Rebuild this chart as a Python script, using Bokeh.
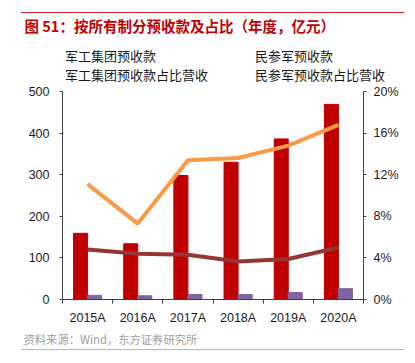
from bokeh.plotting import figure
from bokeh.layouts import column
from bokeh.models import (Range1d, LinearAxis, FixedTicker, NumeralTickFormatter,
                          Legend, LegendItem, Label, Plot, Div, CDSView, IndexFilter)
from bokeh.embed import file_html
from bokeh.resources import INLINE

categories = ["2015A", "2016A", "2017A", "2018A", "2019A", "2020A"]
jg_adv = [159, 134, 298, 330, 386, 469]          # 军工集团预收款 (亿元)
mc_adv = [10, 9, 12, 12, 17, 26]                 # 民参军预收款 (亿元)
jg_pct = [0.111, 0.073, 0.134, 0.136, 0.148, 0.168]   # 军工集团预收款占比营收
mc_pct = [0.048, 0.044, 0.043, 0.0365, 0.039, 0.050]  # 民参军预收款占比营收
left_ticks = [0, 100, 200, 300, 400, 500]
right_ticks = [0, 0.04, 0.08, 0.12, 0.16, 0.20]

CJK = "Noto Sans CJK SC"
FONT = "Liberation Sans"
AX = "#404040"
TXT = "#1a1a1a"
RED, PURPLE, ORANGE, DARKRED = "#C00000", "#8064A2", "#FA9A46", "#963634"
W = 410
RULE_TOP = 12     # page y of the top rule
HEAD = 84         # page y where main figure starts
FOOT = 328        # page y where main figure ends
RULE_BOT = 349    # page y of the bottom rule

xs = [i + 0.5 for i in range(len(categories))]
bw = 0.28

HAS_FRAME_ALIGN = "frame_align" in Plot.properties()

def no_align(fig):
    if HAS_FRAME_ALIGN:
        fig.frame_align = False

# ---------------- main chart ----------------
FL, FT = 62, 91 - HEAD
FR = W - 363
FB = FOOT - 299
p = figure(width=W, height=FOOT - HEAD, output_backend="svg", toolbar_location=None,
           title=None, x_range=Range1d(0, len(categories)), y_range=Range1d(0, 500),
           min_border_left=FL, min_border_right=FR, min_border_top=FT,
           min_border_bottom=FB, margin=0)
no_align(p)
p.outline_line_color = None
p.xgrid.visible = False
p.ygrid.visible = False

p.vbar(x=[x - bw / 2 for x in xs], top=jg_adv, width=bw, color=RED)
p.vbar(x=[x + bw / 2 for x in xs], top=mc_adv, width=bw, color=PURPLE)
p.extra_y_ranges = {"pct": Range1d(0, 0.2)}
p.line(xs, jg_pct, y_range_name="pct", color=ORANGE, line_width=4)
p.line(xs, mc_pct, y_range_name="pct", color=DARKRED, line_width=4)

def style_axis(ax, standoff):
    ax.axis_line_color = AX
    ax.major_tick_line_color = AX
    ax.major_tick_in = 0
    ax.major_tick_out = 3
    ax.minor_tick_line_color = None
    ax.major_label_standoff = standoff
    ax.major_label_text_font = FONT
    ax.major_label_text_font_size = "12.5px"
    ax.major_label_text_color = TXT

ya = p.yaxis[0]
ya.ticker = FixedTicker(ticks=left_ticks)
style_axis(ya, 10)

ra = LinearAxis(y_range_name="pct", ticker=FixedTicker(ticks=right_ticks),
                formatter=NumeralTickFormatter(format="0%"))
style_axis(ra, 7)
p.add_layout(ra, "right")

xa = p.xaxis[0]
xa.ticker = FixedTicker(ticks=xs, minor_ticks=list(range(len(categories) + 1)))
xa.major_label_overrides = {x: c for x, c in zip(xs, categories)}
style_axis(xa, 7)
xa.major_tick_line_color = None
xa.major_tick_out = 0
xa.minor_tick_line_color = AX
xa.minor_tick_in = 0
xa.minor_tick_out = 4

# ---------------- top rule (HTML block) ----------------
top_rule = Div(text="", width=383, height=1, margin=(RULE_TOP, 6, 0, 21),
               styles={"background-color": "#D02020"})

# ---------------- header: title and legend ----------------
H_TOP = RULE_TOP + 1
h = figure(width=W, height=HEAD - H_TOP, output_backend="svg", toolbar_location=None,
           title=None, x_range=Range1d(0, W), y_range=Range1d(0, HEAD - H_TOP),
           x_axis_location=None, y_axis_location=None,
           min_border_left=0, min_border_right=0, min_border_top=0,
           min_border_bottom=0, margin=0)
no_align(h)
h.outline_line_color = None
h.xgrid.visible = False
h.ygrid.visible = False
h.extra_x_ranges = {"offx": Range1d(-3000, -2000)}
h.extra_y_ranges = {"off": Range1d(-3000, -2000), "offp": Range1d(-3, -2)}
empty = CDSView(filter=IndexFilter(indices=[]))
kw = dict(x_range_name="offx", view=empty)
lr1 = h.vbar(x=xs, top=jg_adv, width=bw, color=RED, y_range_name="off", **kw)
lr2 = h.vbar(x=xs, top=mc_adv, width=bw, color=PURPLE, y_range_name="off", **kw)
lr3 = h.line(xs, jg_pct, color=ORANGE, line_width=4, y_range_name="offp", **kw)
lr4 = h.line(xs, mc_pct, color=DARKRED, line_width=4, y_range_name="offp", **kw)

h.add_layout(Label(x=24, y=HEAD - 25, text="图  51：按所有制分预收款及占比（年度，亿元）",
                   text_font=CJK, text_font_size="14.5px", text_font_style="bold",
                   text_color=RED, text_baseline="middle"))

def make_legend(items, x):
    return Legend(items=items, location=(x, 0.5), padding=0, margin=0,
                  spacing=-5, glyph_width=31, glyph_height=6, label_height=14,
                  label_standoff=3, label_text_font=CJK, label_text_font_size="13px",
                  label_text_color=TXT, border_line_color=None,
                  background_fill_alpha=0)

h.add_layout(make_legend([LegendItem(label="军工集团预收款", renderers=[lr1]),
                          LegendItem(label="军工集团预收款占比营收", renderers=[lr3])], 31))
h.add_layout(make_legend([LegendItem(label="民参军预收款", renderers=[lr2]),
                          LegendItem(label="民参军预收款占比营收", renderers=[lr4])], 221))

# ---------------- footer: source ----------------
FH = RULE_BOT - FOOT
f = figure(width=W, height=FH, output_backend="svg", toolbar_location=None,
           title=None, x_range=Range1d(0, W), y_range=Range1d(0, FH),
           x_axis_location=None, y_axis_location=None,
           min_border_left=0, min_border_right=0, min_border_top=0,
           min_border_bottom=0, margin=0)
no_align(f)
f.outline_line_color = None
f.xgrid.visible = False
f.ygrid.visible = False
f.add_layout(Label(x=23, y=RULE_BOT - 338, text="资料来源：Wind，东方证券研究所",
                   text_font=CJK, text_font_size="11.3px", text_color="#A0A0A0",
                   text_baseline="middle"))

bottom_rule = Div(text="", width=383, height=1, margin=(0, 6, 0, 21),
                  styles={"background-color": "#E8A0A0"})

layout = column(top_rule, h, p, f, bottom_rule, spacing=0, margin=0)
open("out.html", "w").write(file_html(layout, INLINE))
